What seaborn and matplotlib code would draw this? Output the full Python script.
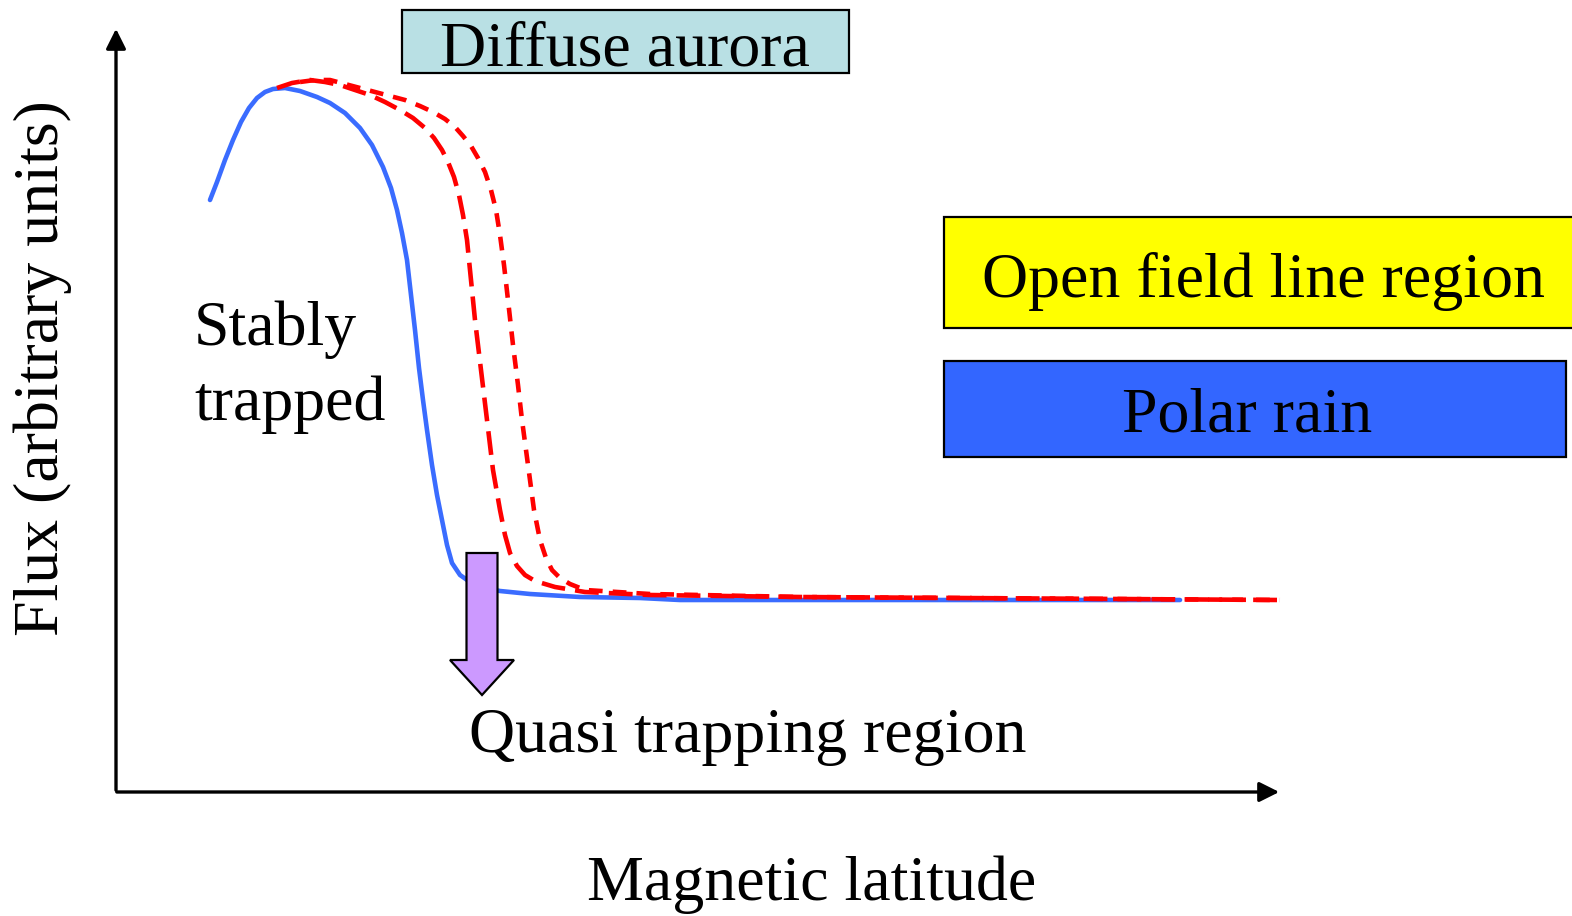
import numpy as np
import pandas as pd
import matplotlib
matplotlib.use('Agg')
import matplotlib.pyplot as plt
import seaborn as sns
from matplotlib.patches import Rectangle, FancyArrow

sns.set_style('white')
plt.rcParams['font.family'] = ['Liberation Serif', 'DejaVu Serif']
plt.rcParams['text.color'] = 'black'

# schematic curves (x: latitude, y: flux, in picture units)
blue_x = [210, 217, 225, 233, 241, 249, 257, 265, 273, 285, 300, 317, 330, 345, 360, 372, 383, 391, 397, 402,
          407, 411, 415, 419, 423, 427, 432, 437, 442, 447, 452, 460, 470, 480, 500, 530, 580, 640, 680, 900, 1180]
blue_y = [200, 182, 160, 140, 122, 108, 98, 92, 89, 88, 91, 97, 103, 113, 128, 145, 167, 188, 210, 233,
          260, 295, 330, 368, 400, 430, 465, 495, 520, 545, 563, 575, 582, 587, 591, 594, 597, 598, 600, 600, 600]

red_in_x = [277, 292, 310, 325, 340, 355, 370, 385, 400, 413, 425, 434, 442, 448, 454, 459, 463, 467, 470, 475,
            481, 487, 493, 500, 505, 510, 517, 525, 535, 555, 585, 650, 800, 1280]
red_in_y = [88, 83, 80, 82, 85, 90, 95, 102, 110, 118, 128, 138, 150, 162, 177, 195, 215, 240, 270, 320,
            370, 420, 470, 510, 535, 553, 566, 575, 581, 587, 592, 595, 597, 600]

red_out_x = [300, 315, 330, 345, 360, 375, 390, 405, 420, 433, 445, 455, 463, 471, 478, 485, 491, 496, 500, 504,
             508, 513, 518, 522, 528, 534, 540, 546, 552, 560, 570, 585, 650, 800, 1280]
red_out_y = [82, 80, 80, 84, 88, 92, 96, 100, 106, 112, 119, 127, 136, 146, 158, 172, 190, 210, 235, 265,
             300, 345, 385, 420, 465, 510, 540, 558, 570, 578, 584, 590, 594, 597, 600]

fig = plt.figure(figsize=(15.72, 9.16), dpi=100)
ax = fig.add_axes([0, 0, 1, 1])
ax.set_xlim(0, 1572)
ax.set_ylim(916, 0)
ax.axis('off')

lw = 3.3
sns.lineplot(x=blue_x, y=blue_y, sort=False, color='#3a6cff', linewidth=lw, ax=ax)
sns.lineplot(x=red_in_x, y=red_in_y, sort=False, color='#ff0000', linewidth=lw,
             linestyle=(0, (5.2, 2.2)), ax=ax)
sns.lineplot(x=red_out_x, y=red_out_y, sort=False, color='#ff0000', linewidth=lw,
             linestyle=(0, (3.0, 2.2)), ax=ax)

# axes arrows
ax.annotate('', xy=(116, 26), xytext=(116, 793),
            arrowprops=dict(arrowstyle='-|>', color='black', lw=2.4, mutation_scale=30))
ax.annotate('', xy=(1282, 792), xytext=(114, 792),
            arrowprops=dict(arrowstyle='-|>', color='black', lw=2.4, mutation_scale=30))

# purple arrow
ax.add_patch(FancyArrow(482, 553, 0, 142, width=31, head_width=64, head_length=35,
                        length_includes_head=True, facecolor='#cc99ff',
                        edgecolor='black', linewidth=1.6, zorder=5))

# boxes
ax.add_patch(Rectangle((402, 10), 447, 63, facecolor='#b9e0e4', edgecolor='black', linewidth=1.6))
ax.add_patch(Rectangle((944, 217), 640, 111, facecolor='#ffff00', edgecolor='black', linewidth=1.6))
ax.add_patch(Rectangle((944, 361), 622, 96, facecolor='#3366ff', edgecolor='black', linewidth=1.6))

fs = 46
ax.text(625, 65, 'Diffuse aurora', fontsize=fs, ha='center', va='baseline')
ax.text(1263, 297, 'Open field line region', fontsize=fs, ha='center', va='baseline')
ax.text(1247, 432, 'Polar rain', fontsize=fs, ha='center', va='baseline')
ax.text(194, 345, 'Stably', fontsize=fs, ha='left', va='baseline')
ax.text(194, 420, 'trapped', fontsize=fs, ha='left', va='baseline')
ax.text(748, 752, 'Quasi trapping region', fontsize=fs, ha='center', va='baseline')
ax.text(812, 900, 'Magnetic latitude', fontsize=fs, ha='center', va='baseline')
ax.text(43, 368, 'Flux (arbitrary units)', fontsize=fs, ha='center', va='center', rotation=90)

fig.savefig('out.png', dpi=100)
